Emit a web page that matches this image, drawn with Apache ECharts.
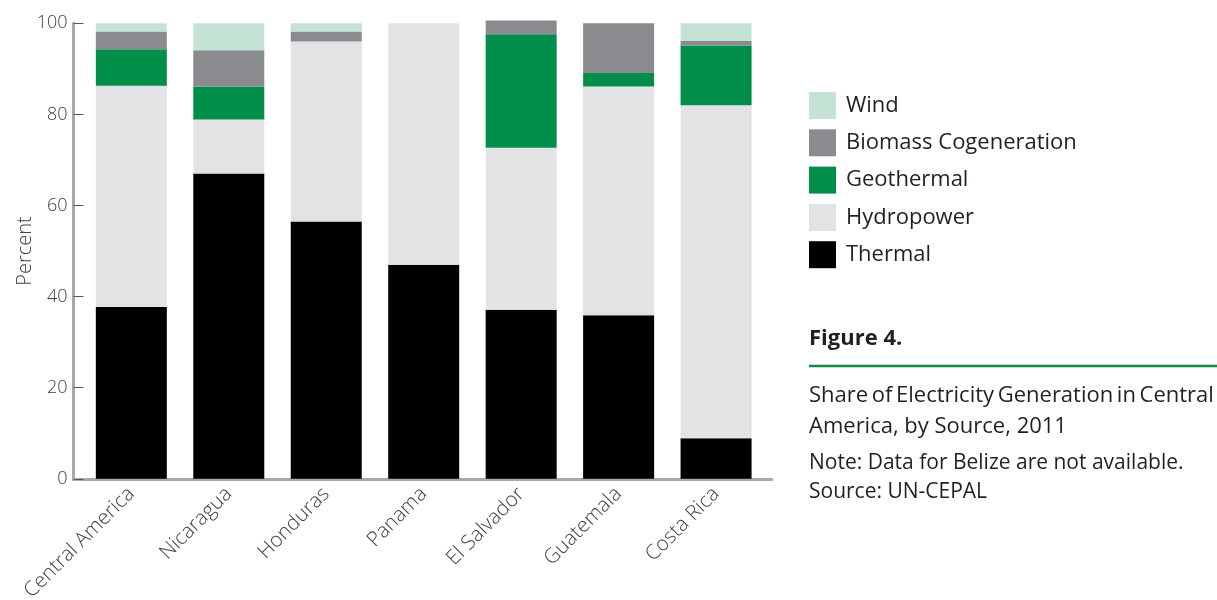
<!DOCTYPE html>
<html>
<head>
<meta charset="utf-8">
<script src="https://cdn.jsdelivr.net/npm/echarts@6/dist/echarts.min.js"></script>
<style>
html,body{margin:0;padding:0;background:#fff;}
#chart{width:1217px;height:600px;}
</style>
</head>
<body>
<div id="chart"></div>
<script>
var categories = ['Central America', 'Nicaragua', 'Honduras', 'Panama', 'El Salvador', 'Guatemala', 'Costa Rica'];
var thermal    = [37.7, 67.0, 56.5, 47.0, 37.1, 35.9, 8.9];
var hydropower = [48.6, 11.9, 39.5, 53.0, 35.6, 50.2, 73.1];
var geothermal = [8.0, 7.2, 0, 0, 24.9, 3.0, 13.1];
var biomass    = [3.9, 8.0, 2.2, 0, 3.0, 10.9, 1.0];
var wind       = [1.8, 5.9, 1.8, 0, 0, 0, 3.9];
var yTicks = { min: 0, max: 100, interval: 20 };
var legendOrder = ['Wind', 'Biomass Cogeneration', 'Geothermal', 'Hydropower', 'Thermal'];

var FONT = '"Open Sans", "Noto Sans", sans-serif';
var AXIS_GREY = '#a7a9ac';
var LABEL_GREY = '#414042';
var TEXT_DARK = '#231f20';

function barSeries(name, data, color) {
  return {
    name: name, type: 'bar', stack: 'total', data: data,
    xAxisIndex: 1, yAxisIndex: 1, barWidth: 71, clip: false,
    itemStyle: { color: color },
    emphasis: { disabled: true }
  };
}

// First caption line is set tight (narrow word spaces), as in the original
var line1Words = ['Share', 'of', 'Electricity', 'Generation', 'in', 'Central'];
var line1 = line1Words.map(function (w) { return '{w|' + w + '}'; }).join('{s| }');

var chart = echarts.init(document.getElementById('chart'), null, { renderer: 'canvas' });
chart.setOption({
  animation: false,
  backgroundColor: '#ffffff',
  grid: [
    { left: 73.5, right: 445.3, top: 23.3, bottom: 121.2, containLabel: false, outerBoundsMode: 'none' },
    { left: 82.6, right: 452.2, top: 23.3, bottom: 121.2, containLabel: false, outerBoundsMode: 'none' }
  ],
  xAxis: [
    {
      type: 'category', gridIndex: 0, data: categories,
      axisLine: { lineStyle: { color: AXIS_GREY, width: 3 } },
      axisTick: { show: false }, axisLabel: { show: false }
    },
    {
      type: 'category', gridIndex: 1, data: categories,
      axisLine: { show: false }, axisTick: { show: false },
      axisLabel: {
        rotate: 45, margin: 12, fontSize: 20.5, fontFamily: FONT, fontWeight: 300,
        color: LABEL_GREY, interval: 0, padding: [0, 0, 0, 0]
      }
    }
  ],
  yAxis: [
    {
      type: 'value', gridIndex: 0, min: yTicks.min, max: yTicks.max, interval: yTicks.interval,
      name: 'Percent', nameLocation: 'middle', nameGap: 38, nameMoveOverlap: false,
      nameTextStyle: { fontSize: 20, fontFamily: FONT, fontWeight: 300, color: LABEL_GREY },
      axisLine: { show: true, lineStyle: { color: AXIS_GREY, width: 3 } },
      axisTick: { show: true, inside: true, length: 10, lineStyle: { color: '#58595b', width: 1 } },
      axisLabel: { margin: 6, fontSize: 18, fontFamily: FONT, fontWeight: 300, color: LABEL_GREY },
      splitLine: { show: false }
    },
    {
      type: 'value', gridIndex: 1, min: yTicks.min, max: yTicks.max, interval: yTicks.interval,
      axisLine: { show: false }, axisTick: { show: false }, axisLabel: { show: false },
      splitLine: { show: false }
    }
  ],
  legend: {
    orient: 'vertical', left: 809, top: 92, padding: 0,
    itemWidth: 27, itemHeight: 27, itemGap: 10.3,
    icon: 'rect',
    data: legendOrder,
    textStyle: { fontSize: 22, fontFamily: FONT, color: TEXT_DARK, lineHeight: 27, padding: [0, 0, 0, 5] },
    selectedMode: false
  },
  series: [
    barSeries('Thermal', thermal, '#000000'),
    barSeries('Hydropower', hydropower, '#e2e3e5'),
    barSeries('Geothermal', geothermal, '#018d4a'),
    barSeries('Biomass Cogeneration', biomass, '#8a8b8e'),
    barSeries('Wind', wind, '#c5e3d4')
  ],
  graphic: [
    { type: 'text', left: 809, top: 328, style: { text: 'Figure 4.', font: 'bold 22px ' + FONT, fill: TEXT_DARK } },
    { type: 'line', shape: { x1: 809, y1: 366, x2: 1217, y2: 366 }, style: { stroke: '#0e8a45', lineWidth: 2.5 } },
    { type: 'text', left: 809, top: 385, style: {
        text: line1, fill: TEXT_DARK,
        rich: { w: { fontSize: 22, fontFamily: FONT, fill: TEXT_DARK }, s: { fontSize: 14, fontFamily: FONT } }
      } },
    { type: 'text', left: 809, top: 416, style: { text: 'America, by Source, 2011', font: '22px ' + FONT, fill: TEXT_DARK } },
    { type: 'text', left: 809, top: 453, style: { text: 'Note: Data for Belize are not available.', font: '21px ' + FONT, fill: TEXT_DARK } },
    { type: 'text', left: 809, top: 482, style: { text: 'Source: UN-CEPAL', font: '21px ' + FONT, fill: TEXT_DARK } }
  ]
});
</script>
</body>
</html>
